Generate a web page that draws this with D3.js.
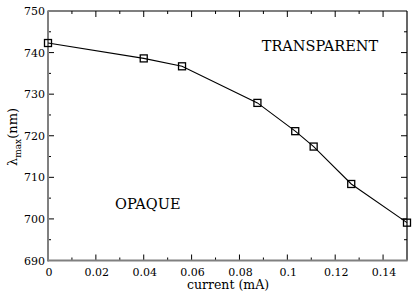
<!DOCTYPE html>
<html><head><meta charset="utf-8">
<script src="https://cdn.jsdelivr.net/npm/d3@7"></script>
<style>body{margin:0;background:#fff}svg{display:block}svg text{font-family:"DejaVu Serif",serif !important}</style>
</head><body>
<svg id="c" width="415" height="298"></svg>
<script>
const current = [0, 0.04, 0.056, 0.0875, 0.1033, 0.111, 0.1267, 0.15];
const lambdaMax = [742.3, 738.6, 736.7, 727.9, 721.1, 717.4, 708.4, 699.1];
const xTicks = [0, 0.02, 0.04, 0.06, 0.08, 0.1, 0.12, 0.14];
const xTickLabels = ["0", "0.02", "0.04", "0.06", "0.08", "0.1", "0.12", "0.14"];
const yTicks = [690, 700, 710, 720, 730, 740, 750];
const annotations = [{text:"TRANSPARENT", x:0.0893, y:740.5}, {text:"OPAQUE", x:0.028, y:702.4}];

const svg = d3.select("#c");
const m = {l:48, r:407, t:11, b:260.5};
const x = d3.scaleLinear().domain([0, 0.15]).range([m.l, m.r]);
const y = d3.scaleLinear().domain([690, 750]).range([m.b, m.t]);

svg.append("line").attr("x1", m.l).attr("x2", m.r).attr("y1", m.t).attr("y2", m.t).attr("stroke", "#000").attr("stroke-width", 1.2);
svg.append("line").attr("x1", m.r).attr("x2", m.r).attr("y1", m.t).attr("y2", m.b).attr("stroke", "#000").attr("stroke-width", 1.2);

const xMinor = d3.range(0.01, 0.15, 0.02);
const yMinor = d3.range(695, 750, 10);
const g = svg.append("g").attr("stroke", "#000").attr("stroke-width", 1);
xTicks.slice(1).forEach(v => {
  g.append("line").attr("x1", x(v)).attr("x2", x(v)).attr("y1", m.b).attr("y2", m.b - 6);
  g.append("line").attr("x1", x(v)).attr("x2", x(v)).attr("y1", m.t).attr("y2", m.t + 6);
});
xMinor.forEach(v => {
  g.append("line").attr("x1", x(v)).attr("x2", x(v)).attr("y1", m.b).attr("y2", m.b - 3);
  g.append("line").attr("x1", x(v)).attr("x2", x(v)).attr("y1", m.t).attr("y2", m.t + 3);
});
yTicks.slice(1, -1).forEach(v => {
  g.append("line").attr("y1", y(v)).attr("y2", y(v)).attr("x1", m.l).attr("x2", m.l + 6);
  g.append("line").attr("y1", y(v)).attr("y2", y(v)).attr("x1", m.r).attr("x2", m.r - 6);
});
yMinor.forEach(v => {
  g.append("line").attr("y1", y(v)).attr("y2", y(v)).attr("x1", m.l).attr("x2", m.l + 3);
  g.append("line").attr("y1", y(v)).attr("y2", y(v)).attr("x1", m.r).attr("x2", m.r - 3);
});

svg.append("line").attr("x1", m.l).attr("x2", m.r + 0.6).attr("y1", m.b).attr("y2", m.b).attr("stroke", "#808080").attr("stroke-width", 2);
svg.append("line").attr("x1", m.l).attr("x2", m.l).attr("y1", m.t - 0.6).attr("y2", m.b + 1).attr("stroke", "#808080").attr("stroke-width", 2);

svg.selectAll(".xl").data(xTicks).enter().append("text")
  .attr("x", d => x(d) + 1).attr("y", 275.5).attr("text-anchor", "middle").attr("font-size", 11)
  .attr("fill", "#000").text((d, i) => xTickLabels[i]);
svg.selectAll(".yl").data(yTicks).enter().append("text")
  .attr("x", 45).attr("y", d => y(d) + 4).attr("text-anchor", "end").attr("font-size", 11)
  .attr("fill", "#000").text(d => d);

svg.append("text").attr("x", 228).attr("y", 289).attr("text-anchor", "middle").attr("font-size", 12.5).text("current (mA)");
const yt = svg.append("text").attr("transform", "translate(17,137) rotate(-90)").attr("text-anchor", "middle").attr("font-size", 13);
yt.append("tspan").text("λ");
yt.append("tspan").attr("font-size", 9).attr("dy", 4).text("max");
yt.append("tspan").attr("dy", -4).text("(nm)");

const pts = current.map((c, i) => [c, lambdaMax[i]]);
svg.append("path").datum(pts).attr("fill", "none").attr("stroke", "#000").attr("stroke-width", 1.1)
  .attr("d", d3.line().x(d => x(d[0])).y(d => y(d[1])));
svg.selectAll(".pt").data(pts).enter().append("rect")
  .attr("x", d => x(d[0]) - 3.5).attr("y", d => y(d[1]) - 3.5).attr("width", 7).attr("height", 7)
  .attr("fill", "none").attr("stroke", "#000").attr("stroke-width", 1.3);

svg.selectAll(".ann").data(annotations).enter().append("text")
  .attr("x", d => x(d.x)).attr("y", d => y(d.y)).attr("font-size", 14.5).attr("fill", "#000").text(d => d.text);
</script>
</body></html>
